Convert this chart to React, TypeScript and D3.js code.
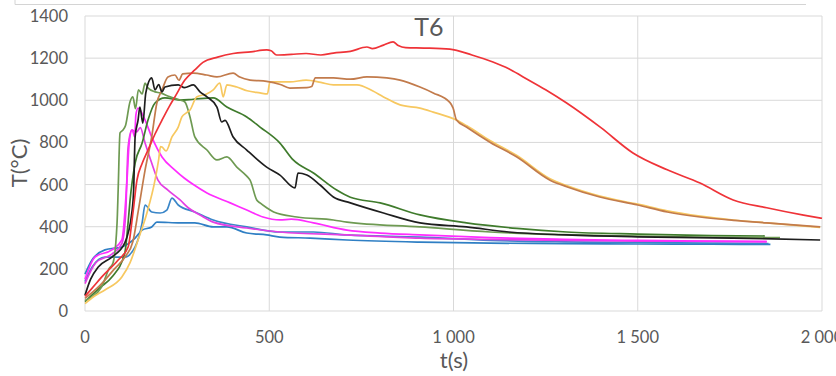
import React, { useEffect, useRef } from 'react'
import * as d3 from 'd3'

// axis ticks
const xTicks = [0, 500, 1000, 1500, 2000]
const xTickLabels = ['0', '500', '1 000', '1 500', '2 000']
const yTicks = [0, 200, 400, 600, 800, 1000, 1200, 1400]

// [t (s), T (°C)]
const blueFlat = [[0, 175], [19, 242], [54, 290], [100, 304], [136, 346], [155, 384], [181, 399], [195, 422], [258, 418], [298, 418], [348, 399], [385, 399], [439, 370], [493, 361], [529, 351], [611, 346], [711, 337], [909, 327], [1100, 322], [1300, 320], [1500, 318], [1700, 317], [1860, 316]]
const blueSpike = [[0, 140], [20, 210], [54, 256], [108, 256], [136, 304], [155, 418], [163, 503], [181, 470], [204, 465], [222, 479], [236, 536], [253, 503], [298, 470], [348, 432], [439, 399], [529, 375], [620, 375], [711, 361], [909, 351], [1100, 335], [1300, 328], [1500, 325], [1700, 322], [1855, 320]]
const magentaA = [[0, 150], [27, 256], [73, 290], [100, 337], [114, 621], [120, 800], [128, 860], [135, 826], [138, 930], [144, 963], [163, 906], [181, 826], [209, 731], [244, 669], [270, 630], [294, 600], [331, 560], [394, 513], [439, 479], [483, 446], [529, 432], [560, 436], [620, 418], [711, 384], [801, 370], [909, 361], [1100, 348], [1300, 340], [1500, 335], [1700, 332], [1850, 330]]
const magentaB = [[0, 130], [30, 230], [73, 270], [100, 320], [110, 450], [117, 778], [127, 859], [140, 850], [150, 870], [163, 797], [181, 702], [198, 621], [225, 574], [258, 527], [280, 490], [312, 456], [348, 422], [439, 394], [529, 375], [711, 361], [909, 346], [1100, 340], [1300, 335], [1500, 332], [1700, 330], [1850, 328]]
const olive = [[0, 50], [45, 114], [65, 200], [76, 228], [87, 418], [90, 574], [95, 845], [103, 859], [110, 880], [122, 992], [130, 1016], [137, 960], [145, 1050], [155, 1030], [163, 1082], [170, 1060], [190, 1040], [204, 1035], [231, 1016], [258, 1001], [271, 992], [285, 921], [298, 826], [331, 764], [358, 717], [385, 731], [412, 683], [439, 640], [448, 621], [466, 527], [475, 513], [493, 490], [512, 470], [575, 446], [674, 432], [711, 422], [909, 399], [1100, 375], [1300, 362], [1500, 355], [1700, 350], [1886, 348]]
const darkGreen = [[0, 45], [40, 110], [73, 161], [108, 275], [117, 420], [122, 520], [136, 702], [155, 797], [171, 906], [190, 987], [217, 1011], [258, 1001], [294, 1005], [348, 1011], [385, 968], [439, 921], [475, 873], [529, 797], [565, 717], [620, 655], [683, 574], [720, 540], [801, 513], [909, 456], [1035, 418], [1172, 392], [1307, 375], [1500, 365], [1700, 358], [1845, 356]]
const yellow = [[0, 35], [25, 70], [54, 100], [100, 161], [122, 228], [144, 337], [168, 465], [190, 621], [200, 720], [205, 780], [209, 778], [220, 760], [236, 826], [253, 873], [263, 921], [275, 940], [285, 954], [303, 1016], [330, 1030], [348, 1049], [366, 1082], [375, 1016], [385, 1073], [412, 1063], [440, 1045], [475, 1035], [495, 1030], [502, 1087], [556, 1087], [600, 1096], [640, 1085], [674, 1073], [738, 1073], [780, 1045], [810, 1016], [855, 978], [909, 963], [945, 944], [1008, 906], [1035, 880], [1100, 808], [1172, 738], [1262, 628], [1307, 595], [1397, 545], [1500, 507], [1580, 475], [1669, 450], [1760, 432], [1850, 418], [1995, 397]]
const brown = [[0, 60], [40, 120], [80, 200], [110, 260], [130, 330], [145, 480], [163, 669], [181, 826], [195, 987], [209, 1049], [225, 1111], [244, 1120], [255, 1095], [265, 1125], [294, 1129], [330, 1120], [358, 1111], [402, 1129], [420, 1110], [448, 1096], [493, 1090], [530, 1075], [556, 1058], [602, 1060], [615, 1065], [625, 1106], [674, 1106], [720, 1100], [765, 1111], [819, 1106], [855, 1096], [909, 1063], [945, 1035], [990, 990], [999, 963], [1008, 906], [1035, 873], [1100, 800], [1172, 731], [1262, 621], [1307, 590], [1397, 541], [1500, 503], [1580, 470], [1669, 446], [1760, 430], [1850, 418], [1995, 399]]
const black = [[0, 75], [15, 150], [36, 209], [73, 256], [108, 323], [127, 465], [132, 574], [136, 826], [144, 906], [149, 968], [157, 892], [165, 1035], [181, 1106], [190, 1049], [200, 1075], [209, 1040], [217, 1063], [253, 1073], [270, 1060], [294, 1073], [312, 1040], [331, 1016], [358, 968], [371, 897], [380, 905], [402, 826], [439, 764], [493, 683], [529, 645], [570, 584], [578, 655], [602, 645], [638, 598], [674, 541], [720, 513], [810, 465], [909, 418], [1035, 399], [1150, 375], [1307, 361], [1500, 352], [1759, 346], [1995, 337]]
const red = [[0, 70], [20, 110], [45, 161], [90, 242], [117, 304], [130, 465], [141, 621], [155, 700], [171, 764], [190, 840], [209, 906], [230, 975], [244, 1016], [271, 1096], [298, 1144], [320, 1180], [360, 1205], [402, 1222], [450, 1230], [493, 1239], [505, 1235], [520, 1215], [560, 1218], [600, 1222], [640, 1215], [674, 1224], [720, 1232], [765, 1253], [780, 1245], [810, 1262], [836, 1277], [850, 1260], [870, 1250], [920, 1248], [990, 1243], [1050, 1215], [1107, 1182], [1150, 1150], [1189, 1111], [1250, 1050], [1307, 987], [1400, 870], [1487, 750], [1580, 670], [1669, 607], [1759, 527], [1850, 490], [1950, 455], [2000, 440]]

const series = [
  { data: blueFlat, color: '#2f7fc4' },
  { data: blueSpike, color: '#3a86c8' },
  { data: magentaB, color: '#e43fe4' },
  { data: magentaA, color: '#ff2cff' },
  { data: darkGreen, color: '#3f7b2c' },
  { data: olive, color: '#6e9a52' },
  { data: yellow, color: '#f7c860' },
  { data: brown, color: '#c27b4c' },
  { data: black, color: '#1e1e1e' },
  { data: red, color: '#ef3338' }
]

const font = 'Lato, "Open Sans", sans-serif'

export default function App() {
  const ref = useRef(null)

  useEffect(() => {
    const svg = d3.select(ref.current)
    svg.selectAll('*').remove()

    const x = d3.scaleLinear().domain([0, 2000]).range([85, 822])
    const y = d3.scaleLinear().domain([0, 1400]).range([311, 16])

    // box border left over from the figure above
    svg.append('path')
      .attr('d', 'M15,0V4.5H806')
      .attr('fill', 'none')
      .attr('stroke', '#d4d4d4')
      .attr('stroke-width', 1)

    svg.append('g').selectAll('line')
      .data(yTicks)
      .enter().append('line')
        .attr('x1', x(0)).attr('x2', x(2000))
        .attr('y1', d => y(d)).attr('y2', d => y(d))
        .attr('stroke', '#d9d9d9')
        .attr('stroke-width', 1)

    svg.append('g').selectAll('line')
      .data(xTicks)
      .enter().append('line')
        .attr('x1', d => x(d)).attr('x2', d => x(d))
        .attr('y1', y(0)).attr('y2', y(1400))
        .attr('stroke', '#d9d9d9')
        .attr('stroke-width', 1)

    svg.append('g').selectAll('text')
      .data(yTicks)
      .enter().append('text')
        .attr('x', 68)
        .attr('y', d => y(d))
        .attr('dy', '0.36em')
        .attr('text-anchor', 'end')
        .attr('font-family', font)
        .attr('font-size', 16.5)
        .attr('fill', '#595959')
        .text(d => d)

    // last label runs off the right edge, as in the original
    svg.append('g').selectAll('text')
      .data(xTicks)
      .enter().append('text')
        .attr('x', d => x(d))
        .attr('y', 343)
        .attr('text-anchor', 'middle')
        .attr('font-family', font)
        .attr('font-size', 16.5)
        .attr('fill', '#595959')
        .text((d, i) => xTickLabels[i])

    const line = d3.line()
      .x(d => x(d[0]))
      .y(d => y(d[1]))
      .curve(d3.curveMonotoneX)

    svg.append('g').selectAll('path')
      .data(series)
      .enter().append('path')
        .attr('d', d => line(d.data))
        .attr('fill', 'none')
        .attr('stroke', d => d.color)
        .attr('stroke-width', 1.7)
        .attr('stroke-linejoin', 'round')

    svg.append('text')
      .attr('x', 429)
      .attr('y', 36)
      .attr('text-anchor', 'middle')
      .attr('font-family', font)
      .attr('font-size', 25)
      .attr('fill', '#595959')
      .text('T6')

    svg.append('text')
      .attr('x', 454)
      .attr('y', 368)
      .attr('text-anchor', 'middle')
      .attr('font-family', font)
      .attr('font-size', 22)
      .attr('fill', '#595959')
      .text('t(s)')

    svg.append('text')
      .attr('transform', 'translate(27,163) rotate(-90)')
      .attr('text-anchor', 'middle')
      .attr('font-family', font)
      .attr('font-size', 22)
      .attr('fill', '#595959')
      .text('T(°C)')
  }, [])

  return (
    <svg ref={ref} width={836} height={376}
      style={{ position: 'absolute', left: 0, top: 0, background: '#fff' }} />
  )
}
